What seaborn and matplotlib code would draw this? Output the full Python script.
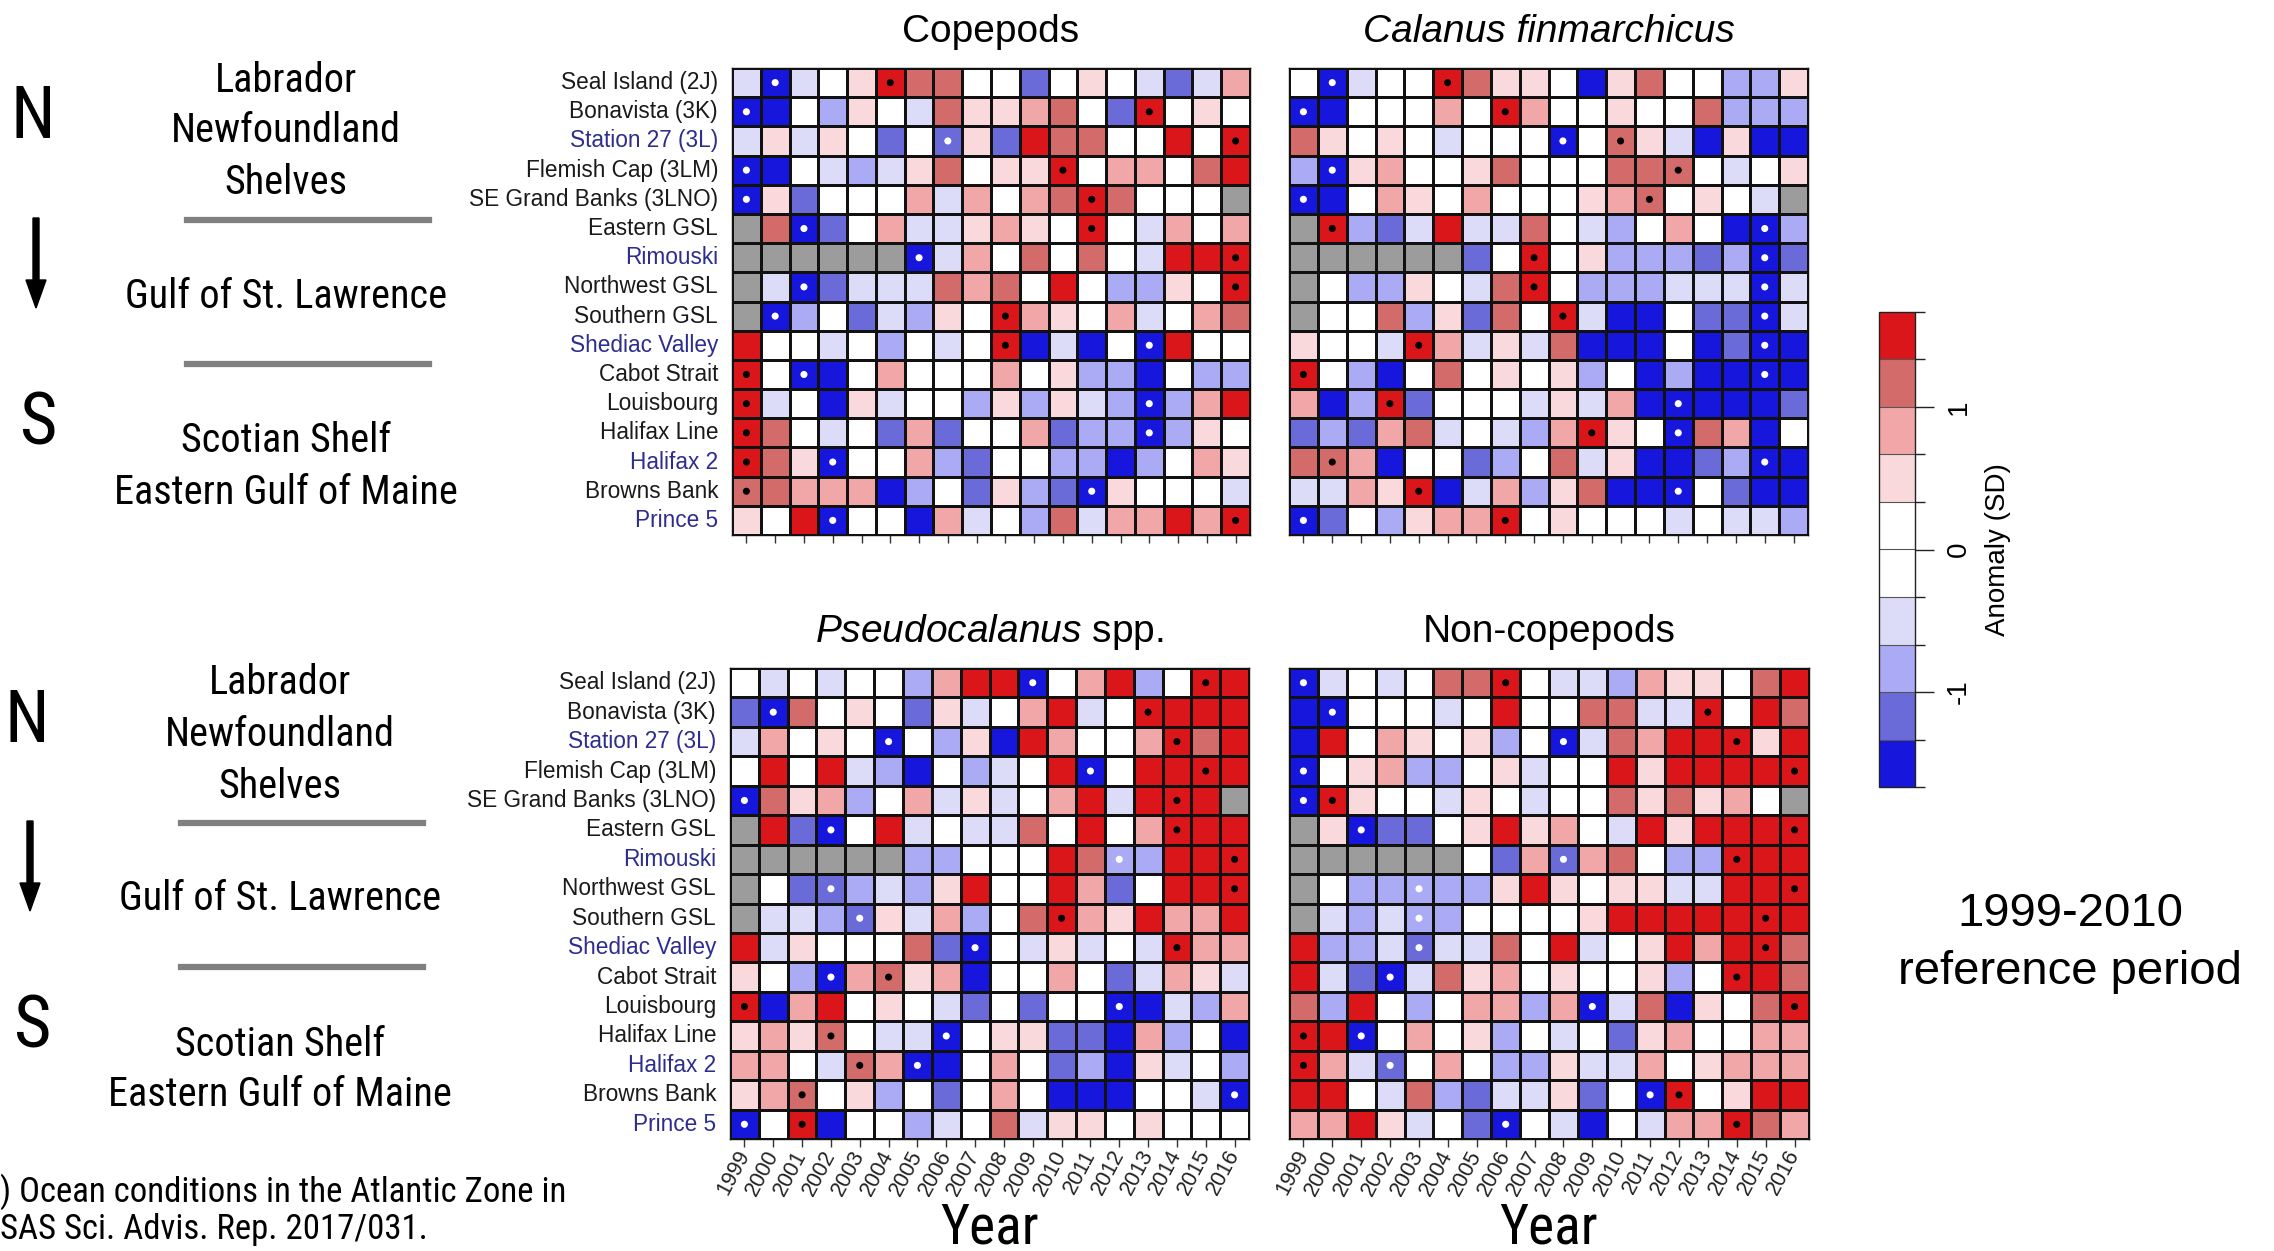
import numpy as np
import pandas as pd
import matplotlib
matplotlib.use("Agg")
import matplotlib.pyplot as plt
import seaborn as sns
from matplotlib.colors import ListedColormap, BoundaryNorm
from matplotlib.cm import ScalarMappable
from matplotlib.patches import FancyArrow
from matplotlib.lines import Line2D

nan = np.nan

# ---------------- data ----------------
years = list(range(1999, 2017))
stations = ["Seal Island (2J)", "Bonavista (3K)", "Station 27 (3L)", "Flemish Cap (3LM)",
            "SE Grand Banks (3LNO)", "Eastern GSL", "Rimouski", "Northwest GSL",
            "Southern GSL", "Shediac Valley", "Cabot Strait", "Louisbourg",
            "Halifax Line", "Halifax 2", "Browns Bank", "Prince 5"]
fixed_stations = ["Station 27 (3L)", "Rimouski", "Shediac Valley", "Halifax 2", "Prince 5"]

# anomalies (SD), nan = no data
copepods = [
    [-0.5, -1.5, -0.5, 0, 0.5, 1.5, 1.2, 1.2, 0, 0, -1.2, 0, 0.5, 0, -0.5, -1.2, -0.5, 0.8],
    [-1.5, -1.5, 0, -0.8, 0.5, 0, -0.5, 1.2, 0.5, 0.5, 0.8, 1.2, 0, -1.2, 1.5, 0, 0.5, 0],
    [-0.5, 0.5, -0.5, 0.5, 0, -1.2, 0, -1.2, 0.5, -1.2, 1.5, 1.2, 1.2, 0, 0, 1.5, 0, 1.5],
    [-1.5, -1.5, 0, -0.5, -0.8, -0.5, 0.5, 1.2, 0, 0.5, 0.5, 1.5, 0, 0.8, 0.8, 0, 1.2, 1.5],
    [-1.5, 0.5, -1.2, 0, 0, 0, 0.8, -0.5, 0.8, 0, 0.8, 1.2, 1.5, 1.2, 0, 0, 0, nan],
    [nan, 1.2, -1.5, -1.2, 0, 0.8, -0.5, -0.5, 0.5, 0.8, 0.5, 0, 1.5, 0, -0.5, 0.8, 0, 0.8],
    [nan, nan, nan, nan, nan, nan, -1.5, -0.5, 0.8, 0, 1.2, 0, 1.2, 0, -0.5, 1.5, 1.5, 1.5],
    [nan, -0.5, -1.5, -1.2, -0.5, -0.5, -0.5, 1.2, 0.8, 1.2, 0, 1.5, 0, -0.8, -0.8, 0.5, 0, 1.5],
    [nan, -1.5, -0.8, 0, -1.2, -0.5, -0.8, 0.5, 0, 1.5, 0.8, 0.5, 0, 0.8, -0.5, 0, 0.8, 1.2],
    [1.5, 0, 0, -0.5, 0, -0.8, 0, -0.5, 0, 1.5, -1.5, -0.5, -1.5, 0, -1.5, 1.5, 0, 0],
    [1.5, 0, -1.5, -1.5, 0, 0.8, 0, 0, 0, 0.8, 0, 0.5, -0.8, -0.8, -1.5, 0, -0.8, -0.8],
    [1.5, -0.5, 0, -1.5, 0.5, -0.5, 0, 0, -0.8, 0.5, -0.8, 0.5, -0.5, -0.8, -1.5, -0.8, 0.8, 1.5],
    [1.5, 1.2, 0, -0.5, 0, -1.2, 0.8, -1.2, 0, 0, 0.8, -1.2, -0.8, -0.8, -1.5, -0.8, 0.5, 0],
    [1.5, 1.2, 0.5, -1.5, 0, 0, 0.8, -0.8, -1.2, 0, 0, -0.8, -0.8, -1.5, -0.8, 0, 0.8, 0.5],
    [1.2, 1.2, 0.8, 0.8, 0.8, -1.5, -0.8, 0, -1.2, 0.5, -0.8, -1.2, -1.5, 0.5, 0, 0, 0, -0.5],
    [0.5, 0, 1.5, -1.5, 0, 0, -1.5, 0.8, -0.5, 0, -0.8, 1.2, -0.5, 0.8, 0.8, 1.5, 0.8, 1.5],
]
copepods_dots = [[2000, 2004], [1999, 2013], [2006, 2016], [1999, 2010], [1999, 2011], [2001, 2011],
                 [2005, 2016], [2001, 2016], [2000, 2008], [2008, 2013], [1999, 2001], [1999, 2013],
                 [1999, 2013], [1999, 2002], [1999, 2011], [2002, 2016]]

calanus = [
    [0, -1.5, -0.5, 0, 0, 1.5, 1.2, 0.5, 0.5, 0, -1.5, 0.5, 1.2, 0, 0, -0.8, -0.8, 0.5],
    [-1.5, -1.5, 0, 0, 0, 0.8, 0, 1.5, 0.8, 0, 0, 0.5, 0, 0, 1.2, -0.8, -0.8, -0.8],
    [1.2, 0.5, 0, 0.5, 0, -0.5, 0, 0, 0, -1.5, 0, 1.2, 0.5, -0.5, -1.5, 0.5, -1.5, -1.5],
    [-0.8, -1.5, 0.5, 0.8, 0, 0, 0.5, 1.2, 0, 0, 0, 1.2, 1.2, 1.2, 0, -0.5, 0, 0.5],
    [-1.5, -1.5, 0, 0.8, 0.5, 0, 0.8, 0, 0, 0, 0.5, 0.8, 1.2, 0, 0.5, 0, -0.5, nan],
    [nan, 1.5, -0.8, -1.2, -0.5, 1.5, -0.5, -0.5, 1.2, 0, -0.5, -0.8, 0, 0.8, 0, -1.5, -1.5, -0.8],
    [nan, nan, nan, nan, nan, nan, -1.2, 0, 1.5, 0, 0.5, -0.8, -0.8, -0.8, -1.2, -0.8, -1.5, -1.2],
    [nan, 0, -0.8, -0.8, 0.5, 0, -0.5, 1.2, 1.5, 0, -0.8, -0.8, -0.8, -0.5, -0.5, -0.5, -1.5, -0.5],
    [nan, 0, 0, 1.2, -0.8, 0.5, -1.2, 1.2, 0, 1.5, -0.5, -1.5, -1.5, 0, -1.2, -1.2, -1.5, -0.5],
    [0.5, 0, 0, -0.5, 1.5, 0.8, -0.5, 0.5, -0.5, 1.2, -1.5, -1.5, -1.5, 0, -1.5, -1.2, -1.5, -1.5],
    [1.5, 0, -0.8, -1.5, 0, 1.2, 0, 0.5, 0, 0.5, -0.8, 0, -1.5, -0.8, -1.5, -1.5, -1.5, -1.5],
    [0.8, -1.5, -0.8, 1.5, -1.2, 0, 0, 0, -0.5, 0.5, -0.5, 0.8, -1.5, -1.5, -1.5, -1.5, -1.5, -1.2],
    [-1.2, -0.8, -1.2, 0.8, 1.2, -0.5, 0, -0.5, -0.8, 0.8, 1.5, 0.5, 0, -1.5, 1.2, 0.8, -1.5, 0],
    [1.2, 1.2, 0.8, -1.5, 0, 0, -1.2, -0.8, 0, 1.2, -0.5, 0.5, -1.5, -1.5, -1.2, -0.8, -1.5, -1.5],
    [-0.5, -0.5, 0.8, 0.5, 1.5, -1.5, -0.5, 0.8, -0.8, 0.5, 1.2, -1.5, -1.5, -1.5, 0, -1.2, -1.5, -1.5],
    [-1.5, -1.2, 0, -0.8, 0.5, 0.8, 0.8, 1.5, 0, 0.5, 0, 0, 0, -0.5, 0, -0.5, -0.5, -0.8],
]
calanus_dots = [[2000, 2004], [1999, 2006], [2008, 2010], [2000, 2012], [1999, 2011], [2000, 2015],
                [2007, 2015], [2007, 2015], [2008, 2015], [2003, 2015], [1999, 2015], [2002, 2012],
                [2009, 2012], [2000, 2015], [2003, 2012], [1999, 2006]]

pseudocalanus = [
    [0, -0.5, 0, -0.5, 0, 0, -0.8, 0.8, 1.5, 1.5, -1.5, 0, 0.8, 1.5, -0.8, 0, 1.5, 1.5],
    [-1.2, -1.5, 1.2, 0, 0.5, 0, -1.2, 0.5, -0.5, 0, 0.8, 1.5, -0.5, 0, 1.5, 1.5, 1.5, 1.5],
    [-0.5, 0.8, 0, 0.5, 0, -1.5, 0, -0.8, 0.5, -1.5, 1.5, 0.8, 0, 0, 0.8, 1.5, 1.2, 1.5],
    [0, 1.5, 0, 1.5, -0.5, -0.8, -1.5, 0, -0.8, -0.5, 0, 1.5, -1.5, 0, 1.5, 1.5, 1.5, 1.5],
    [-1.5, 1.2, 0.5, 0.8, -0.8, 0, 0.8, -0.5, 0.5, -0.5, 0, 0.8, 1.5, -0.5, 1.5, 1.5, 1.5, nan],
    [nan, 1.5, -1.2, -1.5, 0, 1.5, -0.5, 0, -0.5, -0.5, 1.2, 0, 1.5, 0, 0.8, 1.5, 1.5, 1.5],
    [nan, nan, nan, nan, nan, nan, -0.8, -0.8, 0, 0, 0, 1.5, 1.2, -0.8, -0.8, 1.5, 1.5, 1.5],
    [nan, 0, -1.2, -1.2, -0.8, -0.5, -0.8, 0.5, 1.5, 0, 0, 1.5, 0.8, -1.2, 0, 1.5, 1.5, 1.5],
    [nan, -0.5, -0.5, -0.8, -1.2, 0.5, -0.5, 0.8, -0.8, 0, 1.2, 1.5, 0.8, 0.5, 1.5, 0.8, 0.8, 1.5],
    [1.5, -0.5, 0.5, 0, 0, 0, 1.2, -1.2, -1.5, 0, -0.5, 0.5, -0.5, 0, -0.5, 1.5, 0.8, 0.8],
    [0.5, 0, -0.8, -1.5, 0.8, 1.2, 0.5, 0.8, -1.5, 0, 0, 0.8, 0, -1.2, -0.5, 0.8, 0.5, -0.5],
    [1.5, -1.5, 0.8, 1.5, 0, 0.5, 0, -0.5, -1.2, 0, -1.2, 0, 0, -1.5, -1.5, -0.5, -0.8, 0.8],
    [0.5, 0.8, 0.5, 1.2, 0, -0.5, -0.5, -1.5, 0, 0.5, 0.5, -1.2, -1.2, -1.5, 0.8, -0.8, 0, -1.5],
    [0.8, 0.8, 0, -0.5, 1.2, 0.8, -1.5, -1.5, 0, 0.8, 0, -1.2, -0.8, -1.5, 0.5, -0.5, 0, -0.8],
    [0.5, 0.8, 1.2, 0, 0.5, -0.8, 0, -1.2, 0, 0.8, 0, -1.5, -1.5, -1.5, 0, 0, -0.5, -1.5],
    [-1.5, 0, 1.5, -1.5, 0, 0, -0.8, -0.5, 0, 1.2, -0.5, 0.5, 0.5, 0, 0.5, 0, 0, 0],
]
pseudocalanus_dots = [[2009, 2015], [2000, 2013], [2004, 2014], [2011, 2015], [1999, 2014], [2002, 2014],
                      [2012, 2016], [2002, 2016], [2003, 2010], [2007, 2014], [2002, 2004], [1999, 2012],
                      [2002, 2006], [2003, 2005], [2001, 2016], [1999, 2001]]

noncopepods = [
    [-1.5, -0.5, 0, -0.5, 0, 1.2, 1.2, 1.5, 0, -0.5, -0.5, -0.8, 0.8, 0.5, 0.5, 0, 1.2, 1.5],
    [-1.5, -1.5, 0, 0, 0, -0.5, 0, 1.5, 0, 0, 1.2, 1.2, -0.5, -0.5, 1.5, 0, 1.5, 1.2],
    [-1.5, 1.5, 0, 0.8, 0.5, 0, 0.5, -0.8, 0, -1.5, -0.5, 1.2, 0.8, 1.5, 1.5, 1.5, 0.5, 1.5],
    [-1.5, 0, 0.5, 0.8, -0.8, -0.8, 0, 0.5, -0.5, 0, 0, 1.5, 0.5, 1.5, 1.5, 1.5, 1.5, 1.5],
    [-1.5, 1.5, 0.5, 0, 0, -0.5, 0.5, 0, -0.5, 0, 0, 1.2, 0.5, 1.2, 0.5, 0.8, 0, nan],
    [nan, 0.5, -1.5, -1.2, -1.2, 0, 0.5, 1.5, 0.5, 0.8, 0, -0.5, 1.5, 0.5, 1.5, 1.5, 1.5, 1.5],
    [nan, nan, nan, nan, nan, nan, 0, -1.2, 0.8, -1.2, 0.8, 1.2, 0, -0.8, -0.8, 1.5, 1.5, 1.5],
    [nan, 0, -0.8, -0.8, -0.8, -0.8, -0.8, 0.5, 1.5, 0.5, 0, 0.5, 0.5, -0.5, -0.5, 1.5, 1.5, 1.5],
    [nan, -0.5, -0.8, -0.5, -0.8, -0.8, 0, 0, 0, 0, 0.5, 1.5, 1.5, 1.5, 1.5, 1.5, 1.5, 1.5],
    [1.5, -0.8, -0.8, -0.5, -1.2, -0.5, -0.5, 1.2, 0, 1.5, -0.5, 0, 0.5, 1.5, 0.8, 1.5, 1.5, 1.2],
    [1.5, -0.5, -1.2, -1.5, -0.5, 1.2, 0.5, 0.8, 0, 0.5, 0, 0, 0.5, -0.8, 0, 1.5, 1.5, 1.2],
    [1.2, -0.8, 1.5, 0, -0.8, 0, 0.8, 0.8, -0.8, 0.8, -1.5, -0.5, 1.2, -1.5, 0.5, 0, 1.2, 1.5],
    [1.5, 1.5, -1.5, 0, 0.8, 0, 0.5, -0.8, 0, -0.5, 0, -1.2, 0.5, 0.8, 0, 0, 0.8, 0.8],
    [1.5, 0.8, -0.5, -1.2, 0, 0.8, 0, -0.8, -0.8, 0.5, -0.5, -0.5, 0.8, 0, 0.5, 0.8, 0.8, 0.8],
    [1.5, 1.5, 0, -0.5, 1.2, -0.8, -1.2, -0.5, -0.5, 0.5, -1.2, 0, -1.5, 1.5, 0, 0.5, 1.5, 1.5],
    [0.8, 0.8, 1.5, 0.5, -0.5, 0, -1.2, -1.5, 0, -0.5, -1.5, 0, -0.5, 0.8, 0.8, 1.5, 1.2, 0.8],
]
noncopepods_dots = [[1999, 2006], [2000, 2013], [2008, 2014], [1999, 2016], [1999, 2000], [2001, 2016],
                    [2008, 2014], [2003, 2016], [2003, 2015], [2003, 2015], [2002, 2014], [2009, 2016],
                    [1999, 2001], [1999, 2002], [2011, 2012], [2006, 2014]]

for m in (copepods, calanus, pseudocalanus, noncopepods):
    assert len(m) == 16 and all(len(r) == 18 for r in m), [len(r) for r in m]

# ---------------- style ----------------
plt.rcParams["font.family"] = ["Liberation Sans", "DejaVu Sans"]
plt.rcParams["mathtext.fontset"] = "custom"
plt.rcParams["mathtext.it"] = "Liberation Sans:italic"
plt.rcParams["mathtext.rm"] = "Liberation Sans"
COND = ["Roboto Condensed", "Liberation Sans Narrow", "Liberation Sans", "DejaVu Sans"]

band_colors = ["#1616DC", "#6A6AD8", "#ABABF5", "#DCDCF9", "#FFFFFF",
               "#FFFFFF", "#F9D9DC", "#F1A7A7", "#D46B6B", "#DB161B"]
bounds = np.linspace(-5 / 3, 5 / 3, 11)
cmap = ListedColormap(band_colors)
cmap.set_over(band_colors[-1])
cmap.set_under(band_colors[0])
norm = BoundaryNorm(bounds, cmap.N)

W, H = 2274, 1251
fig = plt.figure(figsize=(W / 100, H / 100), dpi=100)


def axpos(x0, y0, x1, y1):
    return [x0 / W, 1 - y1 / H, (x1 - x0) / W, (y1 - y0) / H]


def ftext(x, y, s, **kw):
    return fig.text(x / W, 1 - y / H, s, **kw)


panels = [
    ("Copepods", copepods, copepods_dots, axpos(732, 68, 1250, 535), True, False, {}),
    ("Calanus finmarchicus", calanus, calanus_dots, axpos(1289, 68, 1808, 535), False, False, {"style": "italic"}),
    (r"$\mathit{Pseudocalanus}$ spp.", pseudocalanus, pseudocalanus_dots, axpos(730, 668, 1249, 1139), True, True, {}),
    ("Non-copepods", noncopepods, noncopepods_dots, axpos(1289, 668, 1809, 1139), False, True, {}),
]

for title, mat, dots, pos, show_y, show_x, tkw in panels:
    ax = fig.add_axes(pos)
    df = pd.DataFrame(mat, index=stations, columns=years)
    sns.heatmap(df, ax=ax, cmap=cmap, norm=norm, cbar=False, linewidths=0.9,
                linecolor="#111111", xticklabels=years, yticklabels=stations, square=False)
    ax.set_facecolor("#9C9C9C")
    for sp in ax.spines.values():
        sp.set_visible(True)
        sp.set_color("#111111")
        sp.set_linewidth(1.0)
    # dots
    xs, ys, cs = [], [], []
    for r, yrs in enumerate(dots):
        for yr in yrs:
            c = years.index(yr)
            xs.append(c + 0.5)
            ys.append(r + 0.5)
            cs.append("black" if mat[r][c] > 0 else "white")
    ax.scatter(xs, ys, s=26, c=cs, edgecolors="none", zorder=5)

    ax.set_xlabel("")
    ax.set_ylabel("")
    ax.set_title(title, fontsize=28, pad=19, **tkw)
    ax.tick_params(axis="y", length=0, pad=10, labelsize=16.3, labelleft=show_y)
    if show_y:
        ax.set_yticklabels(stations, rotation=0)
        for lab in ax.get_yticklabels():
            lab.set_color("#2D2D8F" if lab.get_text() in fixed_stations else "#1A1A1A")
    ax.tick_params(axis="x", length=6, width=1, color="#333333", labelbottom=show_x,
                   labelsize=15.5, pad=3)
    if show_x:
        ax.set_xticklabels([str(y) for y in years], rotation=62, ha="right",
                           rotation_mode="anchor", va="center", color="#222222")
        cx = (pos[0] + pos[2] / 2) * W
        ftext(cx, 1228, "Year", fontsize=40, family=COND, ha="center", va="center")

# ---------------- colorbar ----------------
cax = fig.add_axes(axpos(1879, 312, 1915, 787))
sm = ScalarMappable(norm=BoundaryNorm(bounds, cmap.N), cmap=cmap)
cb = fig.colorbar(sm, cax=cax, boundaries=bounds, ticks=[-1, 0, 1], drawedges=True)
cb.outline.set_edgecolor("#222222")
cb.outline.set_linewidth(1.0)
cb.dividers.set_color("#555555")
cb.dividers.set_linewidth(0.8)
cax.set_yticks(bounds, minor=True)
cax.set_yticklabels(["-1", "0", "1"], rotation=90, va="center", fontsize=20)
cax.tick_params(which="major", length=14, width=1, pad=8, color="#222222")
cax.tick_params(which="minor", length=7, width=1, color="#222222")
cb.set_label("Anomaly (SD)", fontsize=20, labelpad=10)

ftext(2070, 914, "1999-2010", fontsize=34, ha="center", va="center")
ftext(2070, 972, "reference period", fontsize=34, ha="center", va="center")

# ---------------- left annotations ----------------
for dy, dx in ((0, 0), (603, -6)):
    ftext(33 + dx, 119 + dy, "N", fontsize=52, family=COND, ha="center", va="center")
    ftext(39 + dx, 425 + dy, "S", fontsize=52, family=COND, ha="center", va="center")
    fig.add_artist(FancyArrow((36 + dx) / 100, (H - 218 - dy) / 100, 0, -90 / 100,
                              width=0.06, head_width=0.2, head_length=0.28,
                              length_includes_head=True, color="black",
                              transform=fig.dpi_scale_trans))
    for txt, yy in (("Labrador", 80), ("Newfoundland", 131), ("Shelves", 183),
                    ("Gulf of St. Lawrence", 296), ("Scotian Shelf", 441),
                    ("Eastern Gulf of Maine", 492)):
        ftext(286 + dx, yy + dy, txt, fontsize=29, family=COND, ha="center", va="center")
    for yy in (220, 364):
        fig.add_artist(Line2D([(187 + dx) / W, (429 + dx) / W], [1 - (yy + dy) / H] * 2,
                              transform=fig.transFigure, color="#808080", lw=4.5))

ftext(0, 1192, ") Ocean conditions in the Atlantic Zone in", fontsize=25, family=COND,
      ha="left", va="center")
ftext(0, 1230, "SAS Sci. Advis. Rep. 2017/031.", fontsize=25, family=COND,
      ha="left", va="center")

fig.savefig("out.png", dpi=100)
